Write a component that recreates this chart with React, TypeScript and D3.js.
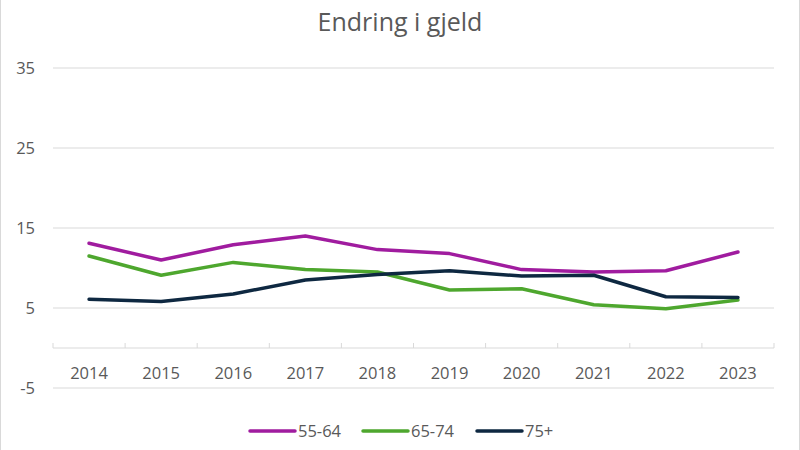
import React from 'react';
import * as d3 from 'd3';

const years = ['2014', '2015', '2016', '2017', '2018', '2019', '2020', '2021', '2022', '2023'];
const age55to64 = [13.1, 11.0, 12.9, 14.0, 12.3, 11.8, 9.8, 9.5, 9.65, 12.0];
const age65to74 = [11.5, 9.1, 10.7, 9.8, 9.5, 7.25, 7.4, 5.4, 4.9, 6.0];
const age75plus = [6.1, 5.8, 6.75, 8.5, 9.2, 9.65, 9.0, 9.1, 6.4, 6.3];
const yTicks = [-5, 5, 15, 25, 35];

const seriesNames = ['55-64', '65-74', '75+'];
const seriesColors = ['#a01c9f', '#4ea72e', '#0e2841'];

const W = 800;
const H = 450;
const textColor = '#595959';
const font = "'Open Sans', 'Noto Sans', sans-serif";

const App: React.FC = () => {
  const x = d3.scaleBand<string>().domain(years).range([53, 774]);
  const y = d3.scaleLinear().domain([-5, 35]).range([388, 68]);

  const line = d3.line<number>()
    .x((_, i) => (x(years[i]) ?? 0) + x.bandwidth() / 2)
    .y(d => y(d));

  const allSeries = [age55to64, age65to74, age75plus];

  // legend layout
  const legendX = [250, 363, 477];
  const legendY = 431;

  return (
    <svg width={W} height={H} style={{ position: 'absolute', left: 0, top: 0, background: '#fff' }}
      fontFamily={font}>
      <rect x={0.5} y={-1} width={W - 1} height={H + 2} fill="#fff" stroke="#d9d9d9" />

      <text x={400} y={31} textAnchor="middle" fontSize={25} fill={textColor}>Endring i gjeld</text>

      {/* gridlines */}
      {yTicks.map(t => (
        <g key={t}>
          <line x1={53} x2={774} y1={y(t)} y2={y(t)} stroke="#d9d9d9" strokeWidth={1} />
          <text x={35} y={y(t) + 6} textAnchor="end" fontSize={16.5} fill={textColor}>{t}</text>
        </g>
      ))}

      {/* category axis at zero */}
      <line x1={53} x2={774} y1={y(0)} y2={y(0)} stroke="#d9d9d9" strokeWidth={1} />
      {years.map(yr => (
        <line key={'t' + yr} x1={x(yr)} x2={x(yr)} y1={y(0) - 5} y2={y(0)} stroke="#d9d9d9" />
      ))}
      <line x1={774} x2={774} y1={y(0) - 5} y2={y(0)} stroke="#d9d9d9" />
      {years.map(yr => (
        <text key={'l' + yr} x={(x(yr) ?? 0) + x.bandwidth() / 2} y={y(0) + 31}
          textAnchor="middle" fontSize={16.5} fill={textColor}>{yr}</text>
      ))}

      {/* series */}
      {allSeries.map((s, i) => (
        <path key={seriesNames[i]} d={line(s) ?? ''} fill="none" stroke={seriesColors[i]}
          strokeWidth={3.5} strokeLinecap="round" strokeLinejoin="round" />
      ))}

      {/* legend */}
      {seriesNames.map((n, i) => (
        <g key={'lg' + n}>
          <line x1={legendX[i]} x2={legendX[i] + 45} y1={legendY} y2={legendY}
            stroke={seriesColors[i]} strokeWidth={3.5} strokeLinecap="round" />
          <text x={legendX[i] + 48} y={legendY + 6} fontSize={16.5} fill={textColor}>{n}</text>
        </g>
      ))}
    </svg>
  );
};

export default App;
